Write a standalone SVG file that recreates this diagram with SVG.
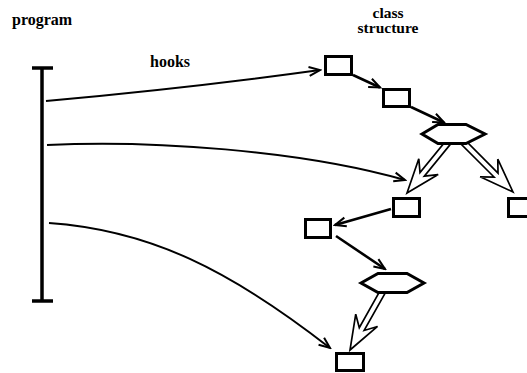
<svg xmlns="http://www.w3.org/2000/svg" xmlns:xlink="http://www.w3.org/1999/xlink" width="527" height="373" viewBox="0 0 527 373">
<style>
.lbl{font-family:"Liberation Serif","Times New Roman",serif;font-weight:bold;font-size:16px;fill:#000}
.sm{font-size:15.5px}
.box{fill:#fff;stroke:#000;stroke-width:3}
.hex{fill:#fff;stroke:#000;stroke-width:3;stroke-linejoin:miter}
.hook{fill:none;stroke:#000;stroke-width:2}
.link{fill:none;stroke:#000;stroke-width:2.6}
.bar{stroke:#000;stroke-width:3.5;fill:none}
.inh{fill:#fff;stroke:#000;stroke-width:1.7;stroke-linejoin:miter}
</style>
<defs>
<marker id="ah" markerUnits="userSpaceOnUse" viewBox="-13 -7 15 14" markerWidth="15" markerHeight="14" refX="0" refY="0" orient="auto">
<path d="M-11,-4.5 L0,0 L-11,4.5" fill="none" stroke="#000" stroke-width="2"/>
</marker>
<polygon id="inharrow" points="0,0 -34,-12.5 -24,-2.8 -70,-2.8 -70,2.8 -24,2.8 -34,12.5"/>
</defs>

<g id="labels">
<text class="lbl" x="12" y="25">program</text>
<text class="lbl" x="150" y="67">hooks</text>
<text class="lbl sm" x="388" y="17.5" text-anchor="middle">class</text>
<text class="lbl sm" x="388" y="33" text-anchor="middle">structure</text>
</g>

<g id="program">
<line class="bar" x1="42" y1="68" x2="42" y2="301"/>
<line class="bar" x1="32" y1="68" x2="53" y2="68"/>
<line class="bar" x1="32" y1="301" x2="53" y2="301"/>
</g>

<g id="connectors">
<path class="hook" d="M46,101 Q190,88 320,70" marker-end="url(#ah)"/>
<path class="hook" d="M47,145 C150,140 300,150 405,180" marker-end="url(#ah)"/>
<path class="hook" d="M49,223 C150,230 230,270 330,348" marker-end="url(#ah)"/>
<path class="link" d="M353,75 L380,87.5" marker-end="url(#ah)"/>
<path class="link" d="M411,107 L444,122.5" marker-end="url(#ah)"/>
<path class="link" d="M391,209 L335,225" marker-end="url(#ah)"/>
<path class="link" d="M336,236 L385,269" marker-end="url(#ah)"/>
<use class="inh" xlink:href="#inharrow" href="#inharrow" transform="translate(407,193) rotate(129.2)"/>
<use class="inh" xlink:href="#inharrow" href="#inharrow" transform="translate(513,192) rotate(45)"/>
<use class="inh" xlink:href="#inharrow" href="#inharrow" transform="translate(350,350) rotate(119.3)"/>
</g>

<g id="box1"><rect class="box" x="325.5" y="56.5" width="26" height="18"/></g>
<g id="box2"><rect class="box" x="383.5" y="89.5" width="26" height="17"/></g>
<g id="hex1"><polygon class="hex" points="422,134 438,124.5 466,124.5 485,134 466,143.5 438,143.5"/></g>
<g id="box3"><rect class="box" x="393.5" y="198.5" width="26" height="18"/></g>
<g id="box4"><rect class="box" x="508.5" y="198.5" width="26" height="18"/></g>
<g id="box5"><rect class="box" x="305.5" y="219.5" width="25" height="18"/></g>
<g id="hex2"><polygon class="hex" points="361,283 378,273.5 407,273.5 424,283 407,292.5 378,292.5"/></g>
<g id="box6"><rect class="box" x="336.5" y="353.5" width="27" height="17"/></g>
</svg>
